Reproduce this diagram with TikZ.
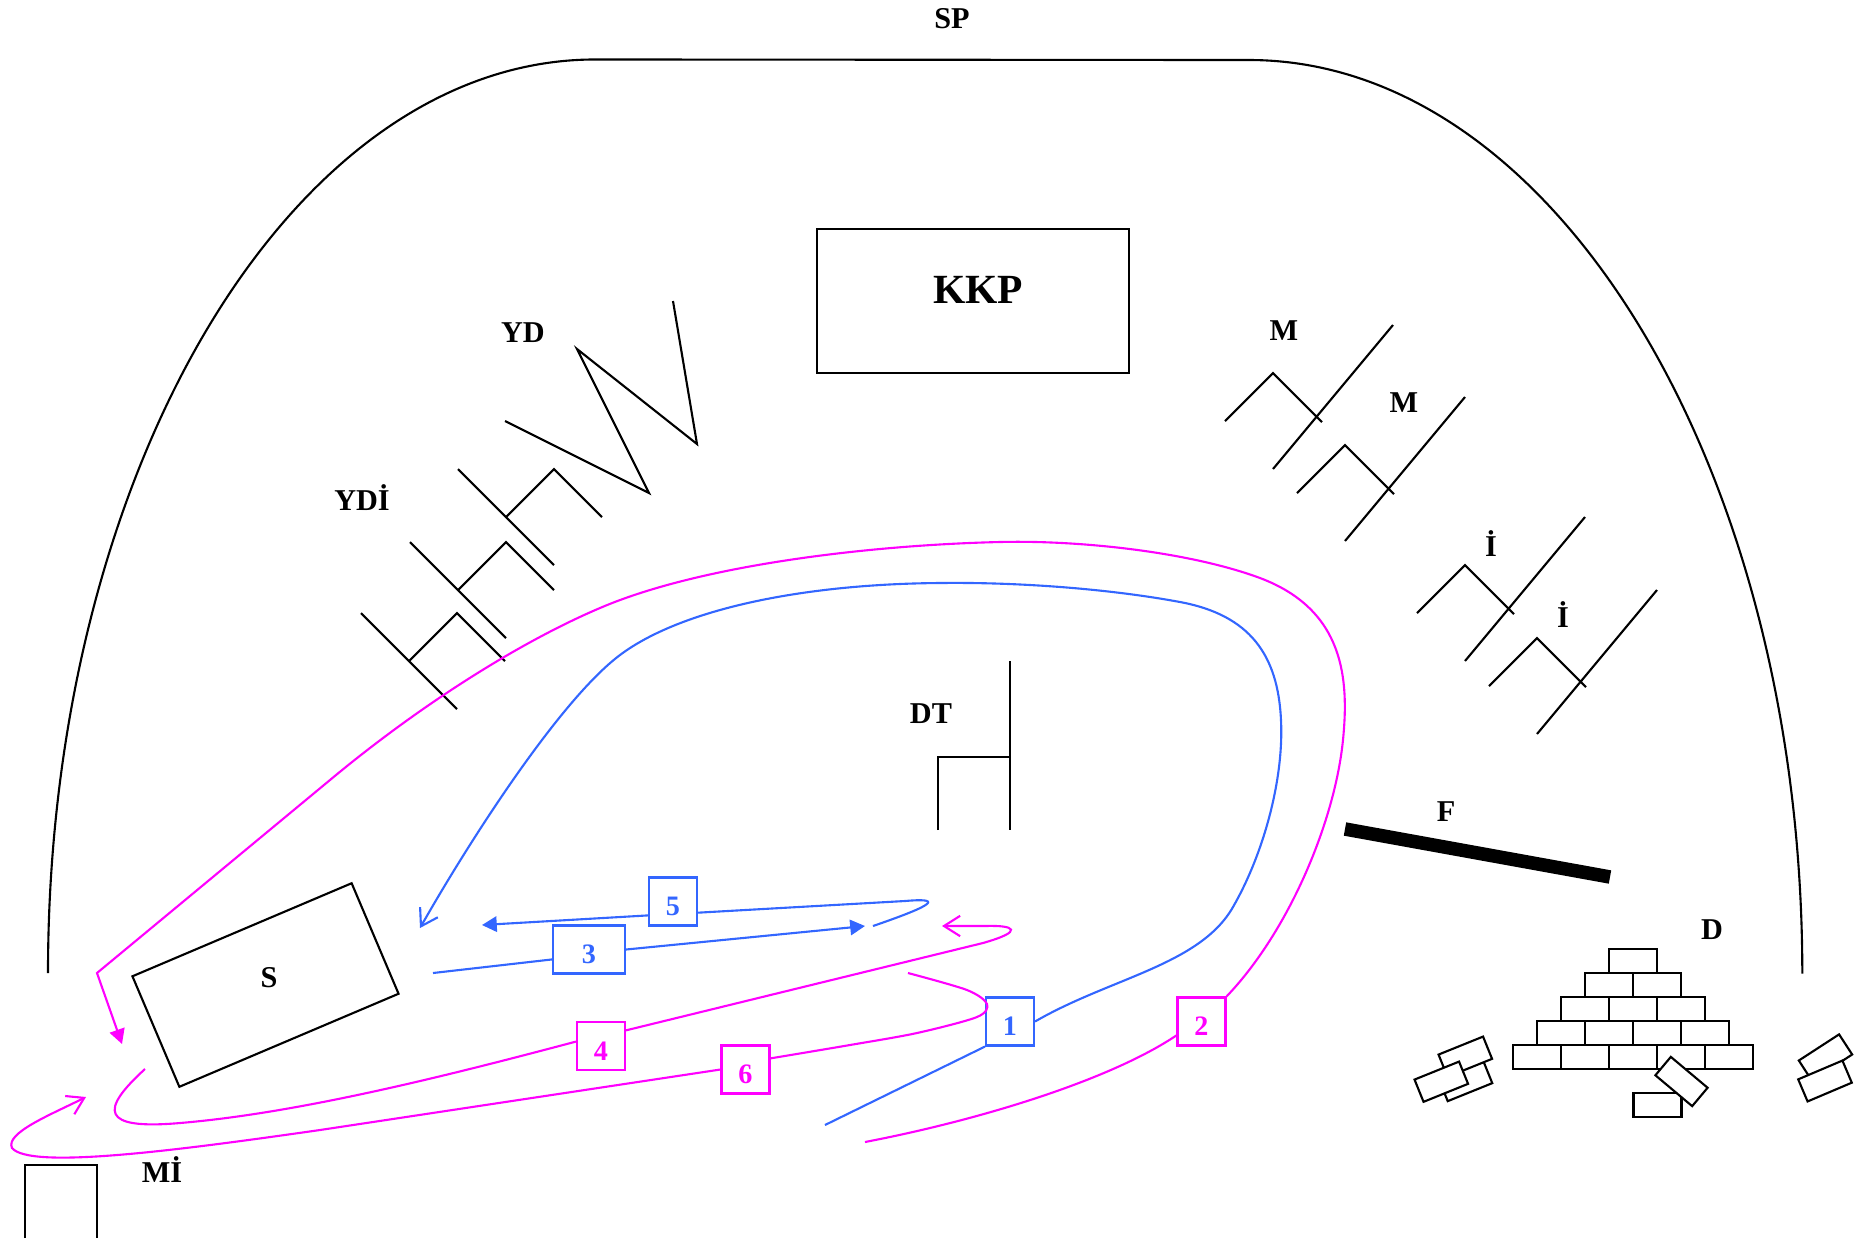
\documentclass[tikz,border=0pt]{standalone}
\usepackage{fontspec}
\setmainfont{Liberation Serif}
\usetikzlibrary{arrows.meta}
\definecolor{walkblue}{RGB}{51,102,255}
\definecolor{walkpink}{RGB}{255,0,255}
\tikzset{
  ink/.style = {line width = 0.6pt},
  tag/.style = {inner sep = 0pt, anchor = base,
    font = \bfseries\fontsize{8.6}{10}\selectfont},
  stepbox/.style = {draw, inner sep = 0pt, minimum width = 4.8mm, minimum height = 4.8mm,
    text height = 8pt, text depth = 0pt,       % digits sit a little low in the box
    font = \bfseries\fontsize{8}{10}\selectfont},
  bluestep/.style = {stepbox, draw = walkblue, text = walkblue},
  pinkstep/.style = {stepbox, draw = walkpink, text = walkpink},
  brick/.style = {draw, fill = white, inner sep = 0pt,
    minimum width = 4.8mm, minimum height = 2.4mm},
  bluewalk/.style = {walkblue},
  pinkwalk/.style = {walkpink},
  barb/.style = {-{Straight Barb[length = 4.6pt, width = 5.8pt]}},
  dart/.style = {-{Triangle[length = 4.2pt, width = 4.4pt]}}
}

\begin{document}
\begin{tikzpicture}[x = 0.01cm, y = -0.01cm, ink]
\useasboundingbox (0,0) rectangle (1865,1238);

%% Outer boundary
\draw (48,973) arc [start angle = 180, end angle = 90, x radius = 5.47cm, y radius = 9.13cm]
  -- (1249,60) arc [start angle = 90, end angle = 0, x radius = 5.53cm, y radius = 9.13cm];
\node [tag] (sp) at (952,28) {SP};

%% KKP
\node [draw, minimum width = 31.2mm, minimum height = 14.4mm] (kkp) at (973,301) {};
\node [tag, font = \bfseries\fontsize{11.8}{14}\selectfont] (kkptag) at (978,303) {KKP};

%% YD
\draw (505,421) -- (649,493) -- (577,349) -- (697,444) -- (673,301);
\node [tag] (yd) at (523,342) {YD};

%% YDİ
\foreach \x/\y in {458/469, 410/542, 361/613}
  \draw [shift = {(\x,\y)}] (0,0) -- (96,96) (48,48) -- (96,0) -- (144,48);
\node [tag] (ydi) at (362,510) {YDİ};

%% M and İ
\foreach \x/\y in {1225/421, 1297/493, 1417/613, 1489/686}
  \draw [shift = {(\x,\y)}] (0,0) -- (48,-48) -- (97,1) (48,48) -- (168,-96);
\node [tag] (m1) at (1284,340) {M};
\node [tag] (m2) at (1404,412) {M};
\node [tag] (i1) at (1491,556) {İ};
\node [tag] (i2) at (1563,627) {İ};

%% DT
\draw (1010,661) -- (1010,830) (938,830) -- (938,757) -- (1010,757);
\node [tag] (dt) at (931,723) {DT};

%% F
\draw [line width = 3.85pt] (1345,829) -- (1610,877);
\node [tag] (f) at (1446,821) {F};

%% D: brick pile and loose bricks
\foreach \r in {1,...,5}
  \foreach \c in {1,...,\r}
    \node [brick] (br\r\c) at ({1609 - 24*\r + 48*\c}, {937 + 24*\r}) {};
\node [brick] (loose1) at (1657.5,1105) {};
\node [brick, rotate = -40] (loose2) at (1681.5,1081.5) {};
\node [brick, rotate = 22] (loose3) at (1465.5,1081) {};
\node [brick, rotate = 22] (loose4) at (1465.3,1056.7) {};
\node [brick, rotate = 22] (loose5) at (1441.3,1081.7) {};
\node [brick, rotate = 33] (loose6) at (1825.5,1057.5) {};
\node [brick, rotate = 23] (loose7) at (1825,1081) {};
\node [tag] (d) at (1712,939) {D};

%% S
\node [draw, minimum width = 23.8mm, minimum height = 12mm, rotate = 23] (s) at (265.5,985) {};
\node [tag] (stag) at (269,987) {S};

%% Mİ
\draw (25,1238) -- (25,1165) -- (97,1165) -- (97,1238);
\node [tag] (mi) at (162,1182) {Mİ};

%% Numbered stops
\node [bluestep] (s1) at (1010,1021.5) {1};
\node [pinkstep] (s2) at (1201.5,1021.5) {2};
\node [bluestep, minimum width = 7.2mm] (s3) at (589,949.5) {3};
\node [pinkstep] (s4) at (601,1046) {4};
\node [bluestep] (s5) at (673,901.5) {5};
\node [pinkstep] (s6) at (745.5,1069.5) {6};

%% Route 1
\coordinate (r1a) at (825,1125);
\coordinate (r1b) at (420,928);
\draw [bluewalk] (r1a) -- (s1.south west);
\draw [bluewalk, barb] (s1.east) .. controls (1110,978) and (1200,965) .. (1233,907)
  .. controls (1263,855) and (1284,780) .. (1281,720)
  .. controls (1278,655) and (1250,615) .. (1180,602)
  .. controls (1110,589) and (1020,582) .. (940,583)
  .. controls (800,584) and (680,610) .. (620,655)
  .. controls (560,700) and (470,840) .. (r1b);

%% Route 2
\coordinate (r2a) at (865,1142);
\coordinate (r2b) at (122,1044);
\draw [pinkwalk] (r2a) .. controls (980,1120) and (1110,1080) .. (s2.209);
\draw [pinkwalk, dart] (s2.north east) .. controls (1290,930) and (1335,820) .. (1343,740)
  .. controls (1349,680) and (1345,610) .. (1260,578)
  .. controls (1190,552) and (1080,540) .. (1000,542)
  .. controls (870,545) and (700,565) .. (600,608)
  .. controls (520,642) and (420,705) .. (330,780)
  -- (97,973) -- (r2b);

%% Route 3
\coordinate (r3a) at (433,973);
\coordinate (r3b) at (865,926);
\draw [bluewalk] (r3a) -- (s3.195);
\draw [bluewalk, dart] (s3.east) -- (r3b);

%% Route 4
\coordinate (r4a) at (145,1069);
\coordinate (r4b) at (942,926);
\draw [pinkwalk] (r4a) .. controls (100,1110) and (100,1130) .. (180,1123)
  .. controls (300,1113) and (450,1075) .. (s4.170);
\draw [pinkwalk, barb] (s4.32) -- (983,943) .. controls (1025,931) and (1015,925) .. (985,926)
  -- (r4b);

%% Route 5
\coordinate (r5a) at (873,926);
\coordinate (r5b) at (482,925);
\draw [bluewalk] (r5a) .. controls (940,903) and (940,898) .. (905,901) -- (s5.336);
\draw [bluewalk, dart] (s5.209) -- (r5b);

%% Route 6
\coordinate (r6a) at (908,973);
\coordinate (r6b) at (86,1097);
\draw [pinkwalk] plot [smooth] coordinates {(r6a) (967,990) (987,1004) (977,1017) (917,1033)
  (850,1045) (s6.24)};
\draw [pinkwalk, barb] (s6.west) -- (320,1130) .. controls (180,1150) and (30,1170) .. (12,1148)
  .. controls (5,1133) and (50,1115) .. (r6b);

\end{tikzpicture}
\end{document}
